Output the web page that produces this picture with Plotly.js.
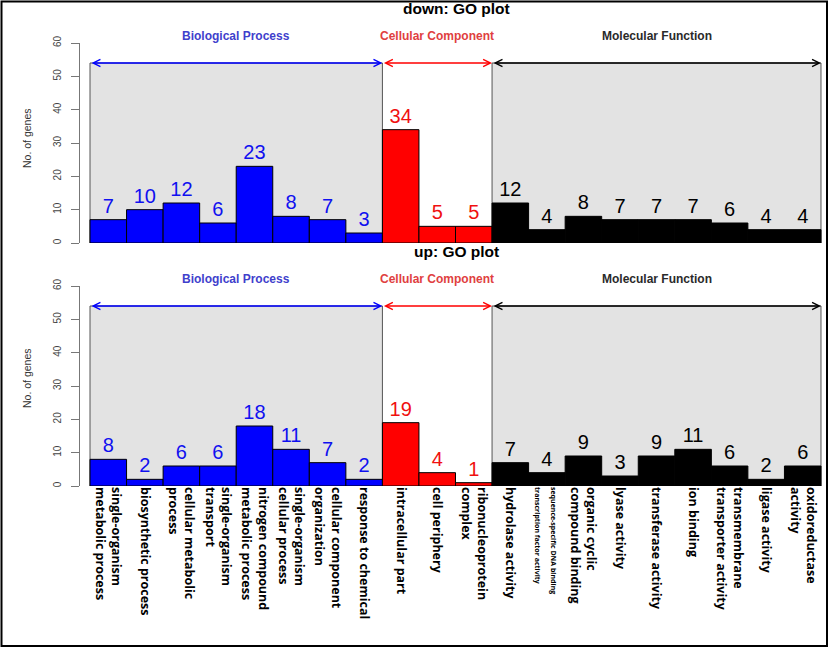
<!DOCTYPE html>
<html><head><meta charset="utf-8">
<script src="https://cdn.plot.ly/plotly-3.0.1.min.js"></script>
<style>body{margin:0;background:#fff}#chart{width:829px;height:648px}</style>
</head><body><div id="chart"></div>
<script>
// ---- data ----
const bpCategories = ["single-organism metabolic process","biosynthetic process","cellular metabolic process","single-organism transport","nitrogen compound metabolic process","single-organism cellular process","cellular component organization","response to chemical"];
const ccCategories = ["intracellular part","cell periphery","ribonucleoprotein complex"];
const mfCategories = ["hydrolase activity","sequence-specific DNA binding transcription factor activity","organic cyclic compound binding","lyase activity","transferase activity","ion binding","transmembrane transporter activity","ligase activity","oxidoreductase activity"];

const downBP = [7,10,12,6,23,8,7,3];
const downCC = [34,5,5];
const downMF = [12,4,8,7,7,7,6,4,4];

const upBP = [8,2,6,6,18,11,7,2];
const upCC = [19,4,1];
const upMF = [7,4,9,3,9,11,6,2,6];

const tickLabels = ["single-organism<br>metabolic process","biosynthetic process","cellular metabolic<br>process","single-organism<br>transport","nitrogen compound<br>metabolic process","single-organism<br>cellular process","cellular component<br>organization","response to chemical",
"intracellular part","cell periphery","ribonucleoprotein<br>complex",
"hydrolase activity","<span style='font-size:7px'>sequence-specific DNA binding</span><br><span style='font-size:7px'>transcription factor activity</span>","organic cyclic<br>compound binding","lyase activity","transferase activity","ion binding","transmembrane<br>transporter activity","ligase activity","oxidoreductase<br>activity"];

const groupNames = ["Biological Process","Cellular Component","Molecular Function"];
const panelTitles = ["down: GO plot","up: GO plot"];
const yTitle = "No. of genes";
const yTicks = [0,10,20,30,40,50,60];

// ---- build ----
const allCats = bpCategories.concat(ccCategories, mfCategories);
const barCol = ["#0000ff","#ff0000","#000000"];
const txtCol = ["#1010f0","#f01010","#000000"];
const lblCol = ["#4040cc","#e04040","#2a2a2a"];
const groups = [bpCategories, ccCategories, mfCategories];
const panels = [[downBP,downCC,downMF],[upBP,upCC,upMF]];

const traces = [];
panels.forEach((vals,p)=>{
  vals.forEach((v,g)=>{
    traces.push({
      type:'bar', x:groups[g], y:v, width:1,
      xaxis: p===0?'x':'x2', yaxis: p===0?'y':'y2',
      marker:{color:barCol[g], line:{color:'#000', width:1}},
      text:v.map(String), textposition:'outside', cliponaxis:false,
      textfont:{family:'Liberation Sans, Arial', size:20, color:txtCol[g]},
      hoverinfo:'none', showlegend:false
    });
  });
});

const xr = [-0.774, 19.637];
const W=829, H=648;
const xdom = [80/W, 826/W];
const ydomTop = [1-243/H, 1-43/H];
const ydomBot = [1-486/H, 1-286/H];

function yax(dom){
  return {domain:dom, range:[0,60], tickvals:yTicks, showline:true, linecolor:'#777', linewidth:1,
    ticks:'outside', ticklen:8, tickcolor:'#777', showgrid:false, zeroline:false, tickangle:-90,
    ticklabelstandoff:6,
    tickfont:{family:'Liberation Sans, Arial', size:10, color:'#444'}, automargin:false, fixedrange:true};
}

const nB = bpCategories.length, nC = ccCategories.length, nM = mfCategories.length;
const spans = [[-0.5, nB-0.5],[nB-0.5, nB+nC-0.5],[nB+nC-0.5, nB+nC+nM-0.5]];

const shapes = [];
const annotations = [];
[['x','y'],['x2','y2']].forEach(([xa,ya],p)=>{
  [0,2].forEach(g=>{
    shapes.push({type:'rect', xref:xa, yref:ya, x0:spans[g][0], x1:spans[g][1], y0:0, y1:54,
      fillcolor:'#e3e3e3', line:{color:'#555', width:1}, layer:'below'});
  });
  groups.forEach((c,g)=>{
    annotations.push({xref:xa, yref:ya, x:spans[g][1], y:54, ax:spans[g][0], ay:54, axref:xa, ayref:ya,
      showarrow:true, arrowside:'end+start', arrowhead:5, arrowsize:0.9, arrowwidth:1.6, arrowcolor:barCol[g],
      standoff:0, startstandoff:0, text:''});
    annotations.push({xref:xa, yref:ya+' domain', x:(spans[g][0]+spans[g][1])/2, y:62/60, showarrow:false,
      xanchor:'center', yanchor:'middle',
      text:groupNames[g], font:{family:'Liberation Sans, Arial', size:12, color:lblCol[g], weight:'bold'}});
  });
  annotations.push({xref:'paper', yref:'paper', x:27/W, y:p===0?1-138/H:1-378/H, showarrow:false, textangle:-90,
    xanchor:'center', yanchor:'middle',
    text:yTitle, font:{family:'Liberation Sans, Arial', size:10.5, color:'#333'}});
});
annotations.push({xref:'paper', yref:'paper', x:456/W, y:1-8/H, showarrow:false, text:panelTitles[0],
  xanchor:'center', yanchor:'middle',
  font:{family:'Liberation Sans, Arial', size:15.5, color:'#000', weight:'bold'}});
annotations.push({xref:'paper', yref:'paper', x:456/W, y:1-252/H, showarrow:false, text:panelTitles[1],
  xanchor:'center', yanchor:'middle',
  font:{family:'Liberation Sans, Arial', size:15.5, color:'#000', weight:'bold'}});

shapes.push({type:'rect', xref:'paper', yref:'paper', x0:1.5/W, x1:827/W, y0:1-646/H, y1:1-1.5/H,
  line:{color:'#000', width:2}, fillcolor:'rgba(0,0,0,0)', layer:'above'});

const layout = {
  width:W, height:H, margin:{l:0,r:0,t:0,b:0}, paper_bgcolor:'#fff', plot_bgcolor:'rgba(0,0,0,0)',
  barmode:'overlay', bargap:0, showlegend:false,
  xaxis:{domain:xdom, anchor:'y', range:xr, type:'category', categoryorder:'array', categoryarray:allCats,
    showticklabels:false, ticks:'', showline:false, showgrid:false, zeroline:false, fixedrange:true},
  yaxis:yax(ydomTop),
  xaxis2:{domain:xdom, anchor:'y2', range:xr, type:'category', categoryorder:'array', categoryarray:allCats,
    tickmode:'array', tickvals:allCats, ticktext:tickLabels, tickangle:90, ticks:'', showline:false, showgrid:false, zeroline:false,
    tickfont:{family:'Open Sans', size:12.5, color:'#000', weight:700}, automargin:false, fixedrange:true},
  yaxis2:yax(ydomBot),
  shapes:shapes, annotations:annotations
};
Plotly.newPlot('chart', traces, layout, {staticPlot:true});
</script></body></html>
